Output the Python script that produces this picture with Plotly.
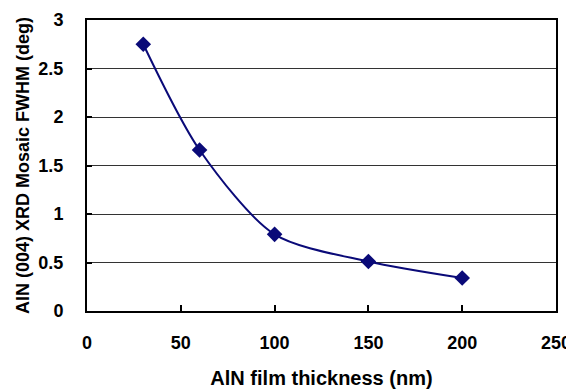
import plotly.graph_objects as go

thickness_nm = [30, 60, 100, 150, 200]
fwhm_deg = [2.75, 1.66, 0.79, 0.51, 0.34]
x_ticks = [0, 50, 100, 150, 200, 250]
y_ticks = [0, 0.5, 1, 1.5, 2, 2.5, 3]
y_tick_text = ["0", "0.5", "1", "1.5", "2", "2.5", "3"]

navy = "#0a0a78"

fig = go.Figure()
fig.add_trace(go.Scatter(
    x=thickness_nm, y=fwhm_deg,
    mode="lines+markers",
    line=dict(color=navy, width=2, shape="spline", smoothing=0.8),
    marker=dict(symbol="diamond", size=12, color=navy),
    showlegend=False,
))

font_family = "Liberation Sans, Arial, sans-serif"

# page body has an 8px default margin, so the figure is 8px smaller
fig.update_layout(
    width=566, height=381,
    margin=dict(l=79, r=18, t=12, b=78),
    paper_bgcolor="white", plot_bgcolor="white",
    font=dict(family=font_family, color="black"),
    xaxis=dict(
        range=[0, 250], tickvals=x_ticks, automargin=False,
        ticks="inside", ticklen=6, tickcolor="black", tickwidth=1.5,
        showline=True, linecolor="black", linewidth=2, mirror=True,
        showgrid=False, zeroline=False,
        tickfont=dict(size=18, family=font_family, color="black", weight="bold"),
        ticklabelstandoff=14,
        title=dict(text="AlN film thickness (nm)", standoff=21,
                   font=dict(size=20, family=font_family, color="black", weight="bold")),
    ),
    yaxis=dict(
        range=[0, 3], tickvals=y_ticks, ticktext=y_tick_text, automargin=False,
        ticks="inside", ticklen=5, tickcolor="black", tickwidth=1.5,
        showline=True, linecolor="black", linewidth=2, mirror=True,
        showgrid=True, gridcolor="#333333", gridwidth=1.2, zeroline=False,
        tickfont=dict(size=18, family=font_family, color="black", weight="bold"),
        ticklabelstandoff=18,
        title=dict(text="AlN (004) XRD Mosaic FWHM (deg)", standoff=4,
                   font=dict(size=18, family=font_family, color="black", weight="bold")),
    ),
)

fig.write_html("out.html")
